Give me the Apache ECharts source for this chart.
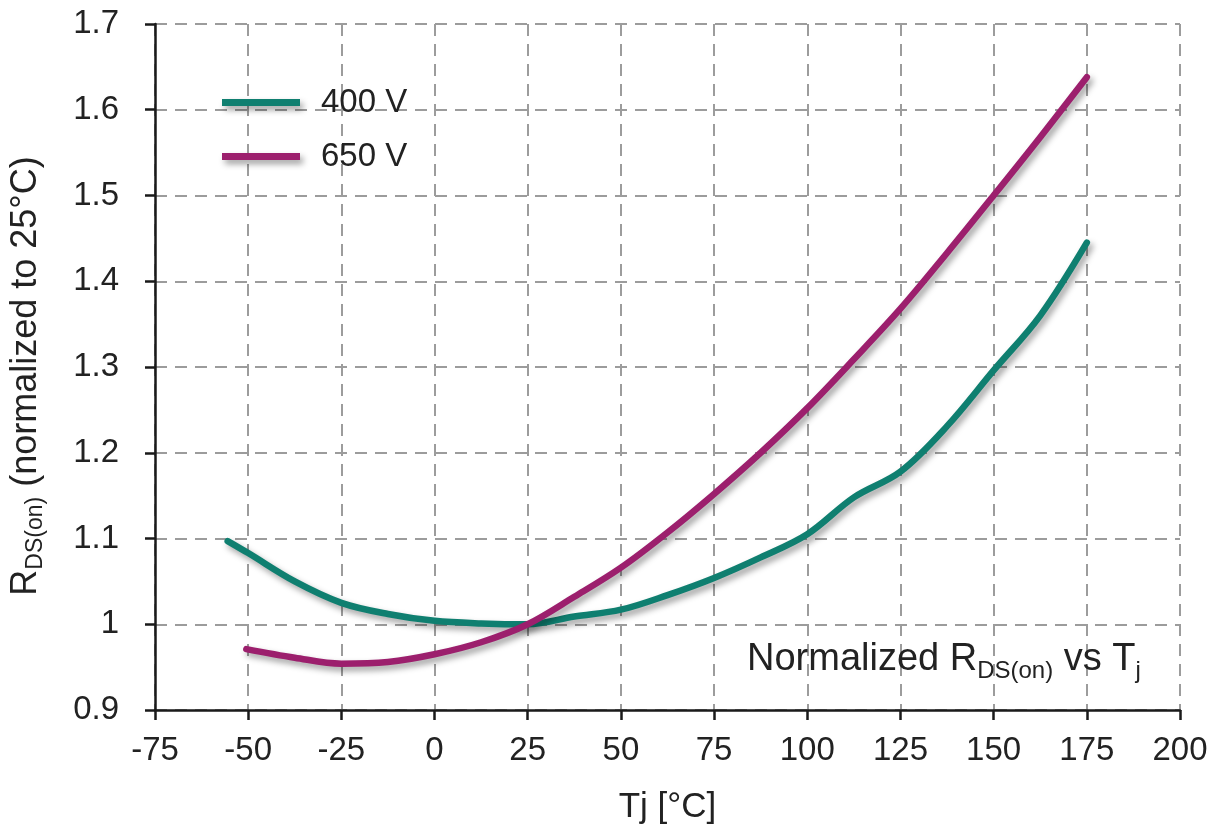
<!DOCTYPE html>
<html>
<head>
<meta charset="utf-8">
<script src="https://cdn.jsdelivr.net/npm/echarts@6/dist/echarts.min.js"></script>
<style>
  html, body { margin: 0; padding: 0; background: #ffffff; }
  #chart { width: 1215px; height: 831px; }
</style>
</head>
<body>
<div id="chart"></div>
<script>
// Junction temperature ticks (°C) and normalized on-resistance ticks
const xTicks = [-75, -50, -25, 0, 25, 50, 75, 100, 125, 150, 175, 200];
const yTicks = [0.9, 1.0, 1.1, 1.2, 1.3, 1.4, 1.5, 1.6, 1.7];

// 400 V curve
const temps400 = [-55.5, -50, -37.5, -25, -12.5, 0, 12.5, 25, 37.5, 50, 62.5, 75, 87.5, 100, 112.5, 125, 137.5, 150, 162.5, 175];
const rds400   = [1.097, 1.083, 1.050, 1.025, 1.012, 1.004, 1.001, 1.000, 1.009, 1.017, 1.034, 1.054, 1.078, 1.105, 1.148, 1.178, 1.231, 1.296, 1.360, 1.445];

// 650 V curve
const temps650 = [-50.5, -37.5, -25, -12.5, 0, 12.5, 25, 37.5, 50, 62.5, 75, 87.5, 100, 112.5, 125, 137.5, 150, 162.5, 175];
const rds650   = [0.971, 0.961, 0.954, 0.956, 0.965, 0.979, 1.000, 1.032, 1.066, 1.107, 1.152, 1.200, 1.252, 1.309, 1.368, 1.433, 1.500, 1.568, 1.638];

const seriesNames = ['400 V', '650 V'];
const seriesColors = ['#0f7f70', '#9c1f6d'];

const FONT = '"Liberation Sans", Arial, sans-serif';
const TEXT = '#222222';

function pairs(xs, ys) { return xs.map((x, i) => [x, ys[i]]); }

const chart = echarts.init(document.getElementById('chart'), null, { renderer: 'canvas' });

const lineShadow = {
  shadowColor: 'rgba(0,0,0,0.38)',
  shadowBlur: 6,
  shadowOffsetX: 3,
  shadowOffsetY: 4
};

const gridDash = { color: '#9c9c9c', width: 2, type: [12, 8] };

chart.setOption({
  animation: false,
  backgroundColor: '#ffffff',
  textStyle: { fontFamily: FONT },
  grid: { left: 152, right: 35, top: 24, bottom: 121, containLabel: false },
  legend: {
    orient: 'vertical',
    left: 222,
    top: 86,
    padding: 0,
    itemWidth: 78,
    itemHeight: 7,
    itemGap: 21,
    icon: 'rect',
    data: seriesNames,
    itemStyle: Object.assign({ borderWidth: 0 }, lineShadow),
    textStyle: { fontSize: 33, color: TEXT, fontFamily: FONT, lineHeight: 28, padding: [0, 0, 0, 16] }
  },
  xAxis: {
    type: 'value',
    min: xTicks[0],
    max: xTicks[xTicks.length - 1],
    interval: xTicks[1] - xTicks[0],
    name: 'Tj [°C]',
    nameLocation: 'middle',
    nameGap: 80,
    nameTextStyle: { fontSize: 35, color: TEXT, fontFamily: FONT },
    axisLine: { show: true, onZero: false, lineStyle: { color: '#1a1a1a', width: 2.5 } },
    axisTick: { show: true, inside: false, length: 10, lineStyle: { color: '#1a1a1a', width: 2.5 } },
    axisLabel: { fontSize: 33, color: TEXT, margin: 24, fontFamily: FONT },
    splitLine: { show: true, lineStyle: gridDash }
  },
  yAxis: {
    type: 'value',
    min: yTicks[0],
    max: yTicks[yTicks.length - 1],
    interval: 0.1,
    name: '{r|R}{s|DS(on)}{r| (normalized to 25°C)}',
    nameLocation: 'middle',
    nameRotate: 90,
    nameGap: 106,
    nameTextStyle: {
      color: TEXT,
      fontFamily: FONT,
      padding: [0, 18, 0, 0],
      rich: {
        r: { fontSize: 36, color: TEXT, fontFamily: FONT, lineHeight: 46, verticalAlign: 'middle' },
        s: { fontSize: 23, color: TEXT, fontFamily: FONT, lineHeight: 46, verticalAlign: 'bottom', padding: [0, 0, 2, 0] }
      }
    },
    axisLine: { show: true, onZero: false, lineStyle: { color: '#1a1a1a', width: 2.5 } },
    axisTick: { show: true, inside: false, length: 10, lineStyle: { color: '#1a1a1a', width: 2.5 } },
    axisLabel: {
      fontSize: 33, color: TEXT, margin: 36, fontFamily: FONT,
      formatter: v => String(Math.round(v * 10) / 10)
    },
    splitLine: { show: true, lineStyle: gridDash }
  },
  graphic: [{
    type: 'text',
    left: 747,
    top: 641,
    style: {
      text: '{m|Normalized R}{s|DS(on)}{m| vs T}{s|j}',
      fontFamily: FONT,
      fill: TEXT,
      rich: {
        m: { fontSize: 38, fill: TEXT, fontFamily: FONT, lineHeight: 50, verticalAlign: 'middle' },
        s: { fontSize: 24, fill: TEXT, fontFamily: FONT, lineHeight: 50, verticalAlign: 'bottom', padding: [0, 0, 2, 0] }
      }
    },
    z: 10
  }],
  series: [
    {
      name: seriesNames[0],
      type: 'line',
      data: pairs(temps400, rds400),
      smooth: 0.35,
      showSymbol: false,
      color: seriesColors[0],
      lineStyle: Object.assign({ width: 6.5, color: seriesColors[0], cap: 'round', join: 'round' }, lineShadow),
      z: 3
    },
    {
      name: seriesNames[1],
      type: 'line',
      data: pairs(temps650, rds650),
      smooth: 0.35,
      showSymbol: false,
      color: seriesColors[1],
      lineStyle: Object.assign({ width: 6.5, color: seriesColors[1], cap: 'round', join: 'round' }, lineShadow),
      z: 4
    }
  ]
});
</script>
</body>
</html>
